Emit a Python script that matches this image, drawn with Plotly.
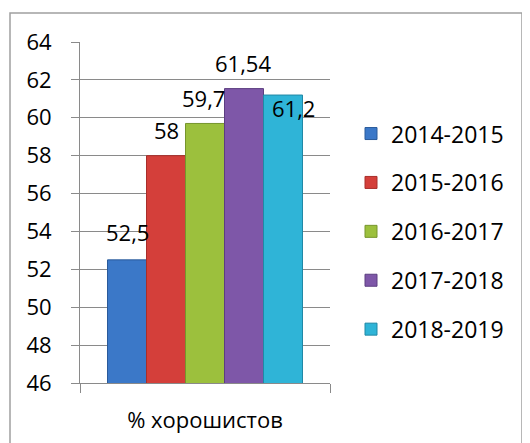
import plotly.graph_objects as go

category = ["% хорошистов"]
years = ["2014-2015", "2015-2016", "2016-2017", "2017-2018", "2018-2019"]
values = [52.5, 58, 59.7, 61.54, 61.2]
colors = ["#3B78C8", "#D43F3A", "#9CC03D", "#7E57A8", "#2FB4D7"]
edge = ["#2A5A9A", "#A82E2A", "#76952C", "#5C3E80", "#2088A6"]
y_ticks = [46, 48, 50, 52, 54, 56, 58, 60, 62, 64]
# label offsets (px) relative to bar top centre
label_dx = [0, 0, -2, -1, 10]
label_dy = [28, 26, 25, 26, -13]

FONT = "Open Sans"
W, H = 530, 443
OFF = 8                      # page body margin
PX0, PX1, PY0, PY1 = 80, 330, 42, 383   # plot area on screen
L, T = PX0 - OFF, PY0 - OFF
R, B = W - (PX1 - OFF), H - (PY1 - OFF)
plot_w, plot_h = PX1 - PX0, PY1 - PY0
BARGAP = 0.22
bar_w = plot_w * (1 - BARGAP) / len(values)

fig = go.Figure()
for i, (yr, v) in enumerate(zip(years, values)):
    fig.add_trace(go.Bar(
        x=category, y=[v], name=yr,
        marker=dict(color=colors[i], line=dict(color=edge[i], width=1)),
        legendgroup=yr,
    ))

annotations = []
n = len(values)
for i, v in enumerate(values):
    annotations.append(dict(
        x=category[0], y=v, xref="x", yref="y",
        text=("%g" % v).replace(".", ","), showarrow=False,
        xshift=(i - (n - 1) / 2) * bar_w + label_dx[i],
        yshift=label_dy[i],
        font=dict(family=FONT, size=22, color="#000000"),
    ))

fig.update_layout(
    width=W, height=H,
    margin=dict(l=L, r=R, t=T, b=B),
    paper_bgcolor="white", plot_bgcolor="white",
    barmode="group", bargap=BARGAP, bargroupgap=0,
    font=dict(family=FONT, size=22, color="#000000"),
    showlegend=True,
    legend=dict(x=1.084, xanchor="left", y=0.444, yanchor="middle",
                font=dict(family=FONT, size=23, color="#000000"),
                traceorder="grouped", tracegroupgap=16,
                bgcolor="rgba(0,0,0,0)"),
    yaxis=dict(range=[46, 64], tickvals=y_ticks, showgrid=True,
               gridcolor="#8A8A8A", gridwidth=1,
               showline=True, linecolor="#8A8A8A", linewidth=1,
               ticks="outside", ticklen=8, tickcolor="#8A8A8A",
               zeroline=False, tickfont=dict(size=22),
               ticklabelstandoff=15),
    xaxis=dict(showline=True, linecolor="#8A8A8A", linewidth=1,
               ticks="outside", ticklen=9, tickcolor="#8A8A8A",
               tickson="boundaries", tickfont=dict(size=22),
               ticklabelstandoff=18),
    annotations=annotations,
    shapes=[dict(type="rect", xref="paper", yref="paper",
                 x0=(10 - PX0) / plot_w, x1=(522 - PX0) / plot_w,
                 y0=(PY1 - 460) / plot_h, y1=(PY1 - 13) / plot_h,
                 line=dict(color="#A0A0A0", width=1.5), layer="below")],
)

fig.write_html("out.html")
